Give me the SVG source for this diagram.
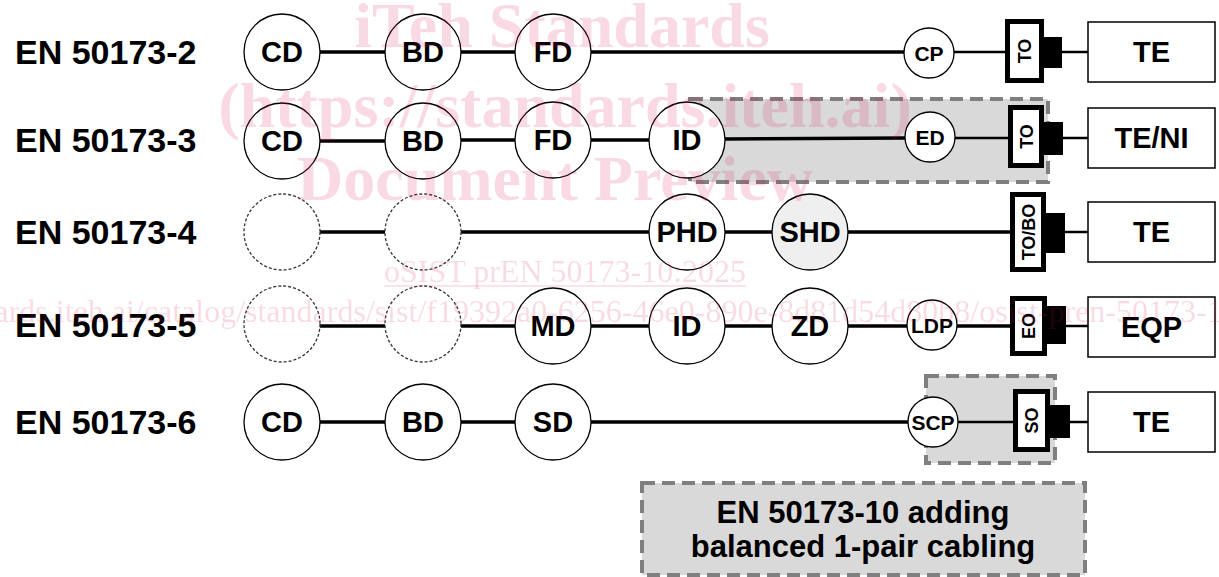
<svg xmlns="http://www.w3.org/2000/svg" width="1219" height="577" viewBox="0 0 1219 577">
<style>
.lbl{font-family:"Liberation Sans",Arial,sans-serif;font-weight:bold;font-size:34px;fill:#000}
.nt{font-family:"Liberation Sans",Arial,sans-serif;font-weight:bold;font-size:29px;fill:#000;text-anchor:middle}
.st{font-family:"Liberation Sans",Arial,sans-serif;font-weight:bold;font-size:21px;fill:#000;text-anchor:middle}
.rt{font-family:"Liberation Sans",Arial,sans-serif;font-weight:bold;font-size:18px;fill:#000;text-anchor:middle}
.big{fill:#fff;stroke:#000;stroke-width:1.3}
.dsh{fill:#fff;stroke:#333;stroke-width:1.3;stroke-dasharray:3 2}
.shd{fill:#efefef;stroke:#000;stroke-width:1.3}
.to{fill:#fff;stroke:#000;stroke-width:5}
.plug{fill:#000}
.te{fill:#fff;stroke:#000;stroke-width:1.5}
.grey{fill:#d9d9d9;stroke:#7f7f7f;stroke-width:4;stroke-dasharray:13 7}
.ln{stroke:#000;stroke-width:3.5;fill:none}
.ln2{stroke:#000;stroke-width:2.5;fill:none}
.wm{font-family:"Liberation Serif","Times New Roman",serif;fill:#dc1450;fill-opacity:0.16}
</style>

<g id="labels">
<text class="lbl" x="15" y="64">EN 50173-2</text>
<text class="lbl" x="15" y="152">EN 50173-3</text>
<text class="lbl" x="15" y="244">EN 50173-4</text>
<text class="lbl" x="15" y="337">EN 50173-5</text>
<text class="lbl" x="15" y="434">EN 50173-6</text>
</g>

<g id="region-50173-3"><rect class="grey" x="690" y="99" width="358" height="83"/></g>
<g id="region-50173-6"><rect class="grey" x="926" y="376" width="129" height="87"/></g>
<g id="note">
<rect class="grey" x="642" y="483" width="443" height="92"/>
<text class="nt" style="font-size:31px" x="863" y="523">EN 50173-10 adding</text>
<text class="nt" style="font-size:31px" x="863" y="557">balanced 1-pair cabling</text>
</g>

<g id="connectors">
<line class="ln" x1="320" y1="52" x2="385" y2="52"/>
<line class="ln" x1="461" y1="52" x2="515" y2="52"/>
<line class="ln" x1="591" y1="52" x2="904" y2="52"/>
<line class="ln2" x1="954" y1="52" x2="1006" y2="52"/>
<line class="ln2" x1="1062" y1="52" x2="1088" y2="52"/>

<line class="ln" x1="320" y1="141" x2="385" y2="141"/>
<line class="ln" x1="461" y1="140" x2="515" y2="140"/>
<line class="ln" x1="591" y1="140" x2="649" y2="140"/>
<line class="ln" x1="725" y1="139" x2="905" y2="138"/>
<line class="ln2" x1="955" y1="138" x2="1009" y2="138"/>
<line class="ln2" x1="1063" y1="138" x2="1088" y2="138"/>

<line class="ln" x1="320" y1="232" x2="385" y2="232"/>
<line class="ln" x1="461" y1="232" x2="649" y2="232"/>
<line class="ln" x1="725" y1="232" x2="772" y2="232"/>
<line class="ln" x1="848" y1="232" x2="1011" y2="232"/>
<line class="ln2" x1="1065" y1="232" x2="1088" y2="232"/>

<line class="ln" x1="320" y1="326" x2="385" y2="326"/>
<line class="ln" x1="461" y1="326" x2="515" y2="326"/>
<line class="ln" x1="591" y1="326" x2="649" y2="326"/>
<line class="ln" x1="725" y1="326" x2="772" y2="326"/>
<line class="ln" x1="848" y1="326" x2="907" y2="326"/>
<line class="ln" x1="957" y1="326" x2="1011" y2="326"/>
<line class="ln2" x1="1066" y1="326" x2="1088" y2="326"/>

<line class="ln" x1="320" y1="422" x2="385" y2="422"/>
<line class="ln" x1="461" y1="422" x2="515" y2="422"/>
<line class="ln" x1="591" y1="422" x2="908" y2="422"/>
<line class="ln2" x1="958" y1="422" x2="1014" y2="422"/>
<line class="ln2" x1="1070" y1="422" x2="1088" y2="422"/>
</g>

<g id="row-50173-2">
<g id="r2-cd"><circle class="big" cx="282" cy="52" r="38"/><text class="nt" x="282" y="62">CD</text></g>
<g id="r2-bd"><circle class="big" cx="423" cy="52" r="38"/><text class="nt" x="423" y="62">BD</text></g>
<g id="r2-fd"><circle class="big" cx="553" cy="52" r="38"/><text class="nt" x="553" y="62">FD</text></g>
<g id="r2-cp"><circle class="big" cx="929" cy="53" r="25"/><text class="st" x="929" y="60.5">CP</text></g>
<g id="r2-to"><rect class="to" x="1007.5" y="21.5" width="34" height="59"/><rect class="plug" x="1043" y="37" width="19" height="31"/><text class="rt" transform="translate(1024.5 51) rotate(-90)" y="6.5">TO</text></g>
<g id="r2-te"><rect class="te" x="1088" y="22" width="127" height="60"/><text class="nt" x="1151.5" y="62">TE</text></g>
</g>

<g id="row-50173-3">
<g id="r3-cd"><circle class="big" cx="282" cy="141" r="38"/><text class="nt" x="282" y="151">CD</text></g>
<g id="r3-bd"><circle class="big" cx="423" cy="141" r="38"/><text class="nt" x="423" y="151">BD</text></g>
<g id="r3-fd"><circle class="big" cx="553" cy="140" r="38"/><text class="nt" x="553" y="150">FD</text></g>
<g id="r3-id"><circle class="big" cx="687" cy="140" r="38"/><text class="nt" x="687" y="150">ID</text></g>
<g id="r3-ed"><circle class="big" cx="930" cy="137" r="25"/><text class="st" x="930" y="144.5">ED</text></g>
<g id="r3-to"><rect class="to" x="1010.5" y="107.5" width="31" height="58"/><rect class="plug" x="1043" y="122" width="20" height="33"/><text class="rt" transform="translate(1026 136.5) rotate(-90)" y="6.5">TO</text></g>
<g id="r3-te"><rect class="te" x="1088" y="108" width="127" height="60"/><text class="nt" x="1151.5" y="148">TE/NI</text></g>
</g>

<g id="row-50173-4">
<g id="r4-c1"><circle class="dsh" cx="282" cy="232" r="38"/></g>
<g id="r4-c2"><circle class="dsh" cx="423" cy="232" r="38"/></g>
<g id="r4-phd"><circle class="big" cx="687" cy="232" r="38"/><text class="nt" x="687" y="242">PHD</text></g>
<g id="r4-shd"><circle class="shd" cx="810" cy="232" r="38"/><text class="nt" x="810" y="242">SHD</text></g>
<g id="r4-tobo"><rect class="to" x="1012.5" y="194.5" width="31" height="75"/><rect class="plug" x="1045" y="213" width="20" height="40"/><text class="rt" transform="translate(1028 232) rotate(-90)" y="6.5">TO/BO</text></g>
<g id="r4-te"><rect class="te" x="1088" y="202" width="127" height="60"/><text class="nt" x="1151.5" y="242">TE</text></g>
</g>

<g id="row-50173-5">
<g id="r5-c1"><circle class="dsh" cx="282" cy="324" r="38"/></g>
<g id="r5-c2"><circle class="dsh" cx="423" cy="324" r="38"/></g>
<g id="r5-md"><circle class="big" cx="553" cy="326" r="38"/><text class="nt" x="553" y="336">MD</text></g>
<g id="r5-id"><circle class="big" cx="687" cy="326" r="38"/><text class="nt" x="687" y="336">ID</text></g>
<g id="r5-zd"><circle class="big" cx="810" cy="326" r="38"/><text class="nt" x="810" y="336">ZD</text></g>
<g id="r5-ldp"><circle class="big" cx="932" cy="325" r="25"/><text class="st" x="932" y="332.5">LDP</text></g>
<g id="r5-eo"><rect class="to" x="1012.5" y="298.5" width="32" height="55"/><rect class="plug" x="1046" y="306" width="20" height="38"/><text class="rt" transform="translate(1028.5 326) rotate(-90)" y="6.5">EO</text></g>
<g id="r5-eqp"><rect class="te" x="1088" y="297" width="127" height="60"/><text class="nt" x="1151.5" y="337">EQP</text></g>
</g>

<g id="row-50173-6">
<g id="r6-cd"><circle class="big" cx="282" cy="422" r="38"/><text class="nt" x="282" y="432">CD</text></g>
<g id="r6-bd"><circle class="big" cx="423" cy="422" r="38"/><text class="nt" x="423" y="432">BD</text></g>
<g id="r6-sd"><circle class="big" cx="553" cy="422" r="38"/><text class="nt" x="553" y="432">SD</text></g>
<g id="r6-scp"><circle class="big" cx="933" cy="422" r="25"/><text class="st" x="933" y="429.5">SCP</text></g>
<g id="r6-so"><rect class="to" x="1015.5" y="391.5" width="32" height="58"/><rect class="plug" x="1049" y="405" width="21" height="33"/><text class="rt" transform="translate(1031.5 420.5) rotate(-90)" y="6.5">SO</text></g>
<g id="r6-te"><rect class="te" x="1088" y="392" width="127" height="60"/><text class="nt" x="1151.5" y="432">TE</text></g>
</g>

<g id="watermark">
<text class="wm" x="562" y="47" text-anchor="middle" font-size="64" font-weight="bold">iTeh Standards</text>
<text class="wm" x="565" y="127" text-anchor="middle" font-size="64" font-weight="bold">(https://standards.iteh.ai)</text>
<text class="wm" x="555" y="200" text-anchor="middle" font-size="64" font-weight="bold">Document Preview</text>
<text class="wm" x="565" y="282" text-anchor="middle" font-size="32">oSIST prEN 50173-10:2025</text>
<line x1="384" y1="286" x2="746" y2="286" stroke="#dc1450" stroke-opacity="0.16" stroke-width="1.5"/>
<text class="wm" x="-162" y="322" font-size="32">https://standards.iteh.ai/catalog/standards/sist/f19392a0-6256-46e0-890e-8d81d54d80b8/osist-pren-50173-10-2025</text>
</g>
</svg>
